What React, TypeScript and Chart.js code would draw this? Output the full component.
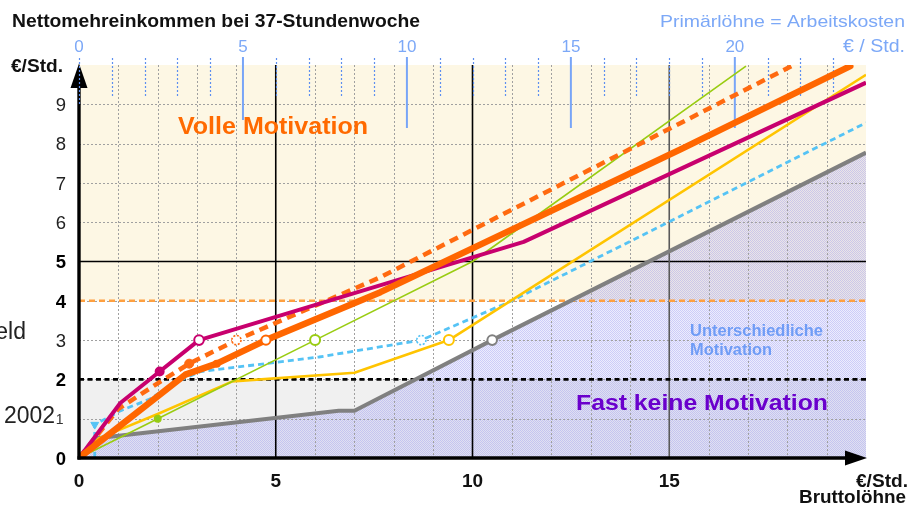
import React, { useEffect, useRef } from 'react';
import { Chart, registerables } from 'chart.js';

Chart.register(...registerables);

const WIDTH = 918;
const HEIGHT = 506;
const FONT = '"Liberation Sans", Arial, Helvetica, sans-serif';

// Bruttolohn (€/Std.) -> Nettomehreinkommen (€/Std.)
const orangeX = [0, 2.7, 3.5, 4.75, 7.66, 15.3, 19.6];
const orangeY = [0, 2.12, 2.4, 3.0, 4.22, 7.86, 9.97];
const orangeDashX = [0, 1, 2, 2.8, 4, 7.66, 18.1];
const orangeDashY = [0, 1.25, 1.9, 2.4, 3.0, 4.6, 9.97];
const magentaX = [0, 1.05, 2.05, 3.05, 11.3, 20];
const magentaY = [0, 1.4, 2.2, 3.0, 5.5, 9.55];
const greenX = [0, 2, 6, 10, 16.95];
const greenY = [0, 1, 3, 5, 9.97];
const yellowX = [0, 0.5, 2, 3.9, 7, 9.4, 20];
const yellowY = [0, 0.5, 1.12, 1.95, 2.17, 3.0, 9.75];
const blueX = [0.4, 0.4, 1.05, 1.8, 2.5, 3.1, 6.1, 8.7, 11, 20];
const blueY = [0, 0.85, 1.2, 1.5, 1.95, 2.2, 2.57, 3.0, 4.0, 8.53];
const grayX = [0, 0.45, 6.6, 7.0, 10.5, 20];
const grayY = [0, 0.5, 1.2, 1.2, 3.0, 7.77];

// axes / ticks
const xTickValues = [0, 5, 10, 15];
const xTickLabels = ['0', '5', '10', '15'];
const yTickValues = [0, 1, 2, 3, 4, 5, 6, 7, 8, 9];
const yTickLabels = ['0', '1', '2', '3', '4', '5', '6', '7', '8', '9'];
const yTickBold = [true, false, true, false, true, true, false, false, false, false];
const xGrid = [1, 2, 3, 4, 6, 7, 8, 9, 11, 12, 13, 14, 16, 17, 18, 19];
const yGrid = [1, 2, 3, 4, 6, 7, 8, 9];
const topMajor = [5, 10, 15, 20];
const topMajorLabels = ['0', '5', '10', '15', '20'];
const topLabelValues = [0, 5, 10, 15, 20];
const topMinor = [1, 2, 3, 4, 6, 7, 8, 9, 11, 12, 13, 14, 16, 17, 18, 19, 21, 22, 23];

const pts = (xs: number[], ys: number[]) => xs.map((x, i) => ({ x, y: ys[i] }));
const per = (n: number, f: (i: number) => any) => Array.from({ length: n }, (_, i) => f(i));

function txt(ctx: CanvasRenderingContext2D, s: string, x: number, y: number, font: string, color: string, align: 'left' | 'right' | 'center' = 'left', width?: number) {
  ctx.save();
  ctx.font = font;
  ctx.fillStyle = color;
  ctx.textBaseline = 'alphabetic';
  if (width) {
    const m = ctx.measureText(s).width;
    const sx = width / m;
    const ox = align === 'left' ? x : align === 'right' ? x - width : x - width / 2;
    ctx.translate(ox, y);
    ctx.scale(sx, 1);
    ctx.textAlign = 'left';
    ctx.fillText(s, 0, 0);
  } else {
    ctx.textAlign = align;
    ctx.fillText(s, x, y);
  }
  ctx.restore();
}

function seg(ctx: CanvasRenderingContext2D, x1: number, y1: number, x2: number, y2: number) {
  ctx.beginPath();
  ctx.moveTo(x1, y1);
  ctx.lineTo(x2, y2);
  ctx.stroke();
}

const deco = {
  id: 'deco',
  beforeDraw(chart: any) {
    const { ctx } = chart;
    const xs = chart.scales.x, ys = chart.scales.y;
    const L = xs.getPixelForValue(0), R = xs.getPixelForValue(20);
    ctx.save();
    ctx.fillStyle = '#ffffff';
    ctx.fillRect(0, 0, WIDTH, HEIGHT);
    const band = (a: number, b: number, c: string) => {
      const t = ys.getPixelForValue(b), bt = ys.getPixelForValue(a);
      ctx.fillStyle = c;
      ctx.fillRect(L, t, R - L, bt - t);
    };
    band(4, 10, '#fdf7e4');
    band(2, 4, '#ffffff');
    band(0, 2, '#f0f0f0');
    ctx.restore();
  },
  beforeDatasetsDraw(chart: any) {
    const { ctx } = chart;
    const xs = chart.scales.x, ys = chart.scales.y, x2 = chart.scales.x2;
    const L = xs.getPixelForValue(0), R = xs.getPixelForValue(20);
    const T = ys.getPixelForValue(10), B = ys.getPixelForValue(0);
    ctx.save();
    // dotted grid
    ctx.lineWidth = 1;
    ctx.strokeStyle = '#a0a0a0';
    ctx.setLineDash([2, 2]);
    xGrid.forEach((v) => { const p = Math.round(xs.getPixelForValue(v)) + 0.5; seg(ctx, p, T, p, B); });
    yGrid.forEach((v) => { const p = Math.round(ys.getPixelForValue(v)) + 0.5; seg(ctx, L, p, R, p); });
    // major lines
    ctx.setLineDash([]);
    ctx.lineWidth = 1.6;
    ctx.strokeStyle = '#000';
    [5, 10].forEach((v) => { const p = xs.getPixelForValue(v); seg(ctx, p, T, p, B); });
    seg(ctx, L, ys.getPixelForValue(5), R, ys.getPixelForValue(5));
    ctx.strokeStyle = '#5a5a5a';
    { const p = xs.getPixelForValue(15); seg(ctx, p, T, p, B); }
    // level lines
    ctx.strokeStyle = '#ffa040';
    ctx.lineWidth = 2.5;
    ctx.setLineDash([6, 4]);
    seg(ctx, L, ys.getPixelForValue(4), R, ys.getPixelForValue(4));
    ctx.strokeStyle = '#000';
    ctx.lineWidth = 2.6;
    ctx.setLineDash([5, 3.5]);
    seg(ctx, L, ys.getPixelForValue(2), R, ys.getPixelForValue(2));
    // top axis ticks (Primärlöhne)
    ctx.strokeStyle = '#5d8ff0';
    ctx.lineWidth = 1.2;
    ctx.setLineDash([2, 2]);
    topMinor.forEach((v) => { const p = Math.round(x2.getPixelForValue(v)) + 0.5; seg(ctx, p, 58, p, 97); });
    ctx.setLineDash([]);
    ctx.strokeStyle = '#78a5f7';
    ctx.lineWidth = 2;
    topMajor.forEach((v) => { const p = x2.getPixelForValue(v); seg(ctx, p, 57, p, v === 5 ? 120 : 128); });
    ctx.restore();
  },
  afterDatasetsDraw(chart: any) {
    const { ctx } = chart;
    const xs = chart.scales.x, ys = chart.scales.y, x2 = chart.scales.x2;
    const L = xs.getPixelForValue(0), R = xs.getPixelForValue(20);
    const T = ys.getPixelForValue(10), B = ys.getPixelForValue(0);
    ctx.save();
    // dashed open markers
    const dashed = [
      { ds: 2, i: 4, color: '#ff6a10' },
      { ds: 5, i: 7, color: '#55c3f5' },
    ];
    dashed.forEach((d) => {
      const el = chart.getDatasetMeta(d.ds).data[d.i];
      ctx.beginPath();
      ctx.arc(el.x, el.y, 4.6, 0, Math.PI * 2);
      ctx.fillStyle = '#fff';
      ctx.fill();
      ctx.setLineDash([2, 1.6]);
      ctx.lineWidth = 1.6;
      ctx.strokeStyle = d.color;
      ctx.stroke();
    });
    ctx.setLineDash([]);
    // axes with arrows
    ctx.strokeStyle = '#000';
    ctx.fillStyle = '#000';
    ctx.lineWidth = 3.4;
    seg(ctx, L, B + 1.5, L, T + 20);
    seg(ctx, L - 1.5, B, R - 18, B);
    ctx.beginPath();
    ctx.moveTo(L, T - 1.5);
    ctx.lineTo(L - 8.5, T + 23);
    ctx.lineTo(L + 8.5, T + 23);
    ctx.closePath();
    ctx.fill();
    ctx.beginPath();
    ctx.moveTo(R + 1, B);
    ctx.lineTo(R - 21, B - 7.5);
    ctx.lineTo(R - 21, B + 7.5);
    ctx.closePath();
    ctx.fill();
    // zero tick of top axis over the arrow
    ctx.strokeStyle = '#5d8ff0';
    ctx.lineWidth = 1.2;
    ctx.setLineDash([2, 2]);
    { const p = Math.round(x2.getPixelForValue(0)) + 0.5; seg(ctx, p, 58, p, 106); }
    ctx.setLineDash([]);
    ctx.restore();

    // texts
    txt(ctx, 'Nettomehreinkommen bei 37-Stundenwoche', 12, 27, `bold 19px ${FONT}`, '#111', 'left', 408);
    txt(ctx, '€/Std.', 11, 72, `bold 18px ${FONT}`, '#111', 'left', 52);
    txt(ctx, 'Primärlöhne = Arbeitskosten', 905, 27, `17px ${FONT}`, '#7ca8f7', 'right', 245);
    txt(ctx, '€ / Std.', 905, 52, `17.5px ${FONT}`, '#7ca8f7', 'right', 62);
    topLabelValues.forEach((v, i) => txt(ctx, topMajorLabels[i], x2.getPixelForValue(v), 52, `17px ${FONT}`, '#7ca8f7', 'center'));
    xTickValues.forEach((v, i) => txt(ctx, xTickLabels[i], xs.getPixelForValue(v), 486.5, `bold 19px ${FONT}`, '#111', 'center'));
    yTickValues.forEach((v, i) => {
      const p = ys.getPixelForValue(v);
      if (v === 1) {
        txt(ctx, yTickLabels[i], 63.5, p + 5, `14px ${FONT}`, '#333', 'right');
      } else {
        txt(ctx, yTickLabels[i], 66, p + 6.7, `${yTickBold[i] ? 'bold ' : ''}18.5px ${FONT}`, yTickBold[i] ? '#000' : '#222', 'right');
      }
    });
    txt(ctx, 'eld', 26, 339, `23px ${FONT}`, '#222', 'right');
    txt(ctx, '2002', 4, 423, `23px ${FONT}`, '#222', 'left', 51);
    txt(ctx, 'Volle Motivation', 178, 134, `bold 23px ${FONT}`, '#ff6a00', 'left', 190);
    txt(ctx, 'Unterschiedliche', 690, 335.5, `bold 16.5px ${FONT}`, '#6f9cf6', 'left', 133);
    txt(ctx, 'Motivation', 690, 355, `bold 16.5px ${FONT}`, '#6f9cf6', 'left', 82);
    txt(ctx, 'Fast keine Motivation', 576, 410, `bold 22px ${FONT}`, '#6a00cc', 'left', 252);
    txt(ctx, '€/Std.', 908, 486.5, `bold 18px ${FONT}`, '#111', 'right', 52);
    txt(ctx, 'Bruttolöhne', 906, 502.5, `bold 19px ${FONT}`, '#111', 'right', 107);
  },
};

export default function App() {
  const ref = useRef<HTMLCanvasElement>(null);
  useEffect(() => {
    const canvas = ref.current!;
    const c2 = canvas.getContext('2d')!;
    const pc = document.createElement('canvas');
    pc.width = 2;
    pc.height = 2;
    const pctx = pc.getContext('2d')!;
    pctx.fillStyle = 'rgba(160,160,245,0.20)';
    pctx.fillRect(0, 0, 2, 2);
    pctx.fillStyle = 'rgba(130,130,235,0.30)';
    pctx.fillRect(0, 0, 1, 1);
    pctx.fillRect(1, 1, 1, 1);
    const pattern = c2.createPattern(pc, 'repeat');

    const base = { tension: 0, fill: false, borderJoinStyle: 'round', pointHoverRadius: 0 };
    const datasets: any[] = [
      {
        ...base, label: 'orange', data: pts(orangeX, orangeY), borderColor: '#ff6600', borderWidth: 6.5,
        borderCapStyle: 'round',
        pointRadius: per(orangeX.length, (i) => (i === 2 ? 3 : i === 3 ? 4.6 : 0)),
        pointBackgroundColor: per(orangeX.length, (i) => (i === 3 ? '#fff' : '#ff6600')),
        pointBorderColor: '#ff6600', pointBorderWidth: 2,
      },
      {
        ...base, label: 'magenta', data: pts(magentaX, magentaY), borderColor: '#c8006e', borderWidth: 4,
        pointRadius: per(magentaX.length, (i) => (i === 2 ? 4 : i === 3 ? 4.8 : 0)),
        pointBackgroundColor: per(magentaX.length, (i) => (i === 3 ? '#fff' : '#c8006e')),
        pointBorderColor: '#c8006e', pointBorderWidth: 2,
      },
      {
        ...base, label: 'orangeDash', data: pts(orangeDashX, orangeDashY), borderColor: '#ff6a10', borderWidth: 4.5,
        borderDash: [9, 6], borderCapStyle: 'butt',
        pointRadius: per(orangeDashX.length, (i) => (i === 3 ? 4.5 : 0)),
        pointBackgroundColor: '#ff6a10', pointBorderColor: '#ff6a10', pointBorderWidth: 1,
      },
      {
        ...base, label: 'green', data: pts(greenX, greenY), borderColor: '#99cc11', borderWidth: 1.6,
        pointRadius: per(greenX.length, (i) => (i === 1 ? 3 : i === 2 ? 5 : 0)),
        pointBackgroundColor: per(greenX.length, (i) => (i === 2 ? '#fff' : '#88cc22')),
        pointBorderColor: '#99cc11', pointBorderWidth: 2,
      },
      {
        ...base, label: 'yellow', data: pts(yellowX, yellowY), borderColor: '#ffc400', borderWidth: 2.6,
        pointRadius: per(yellowX.length, (i) => (i === 5 ? 5 : 0)),
        pointBackgroundColor: '#fff', pointBorderColor: '#ffc400', pointBorderWidth: 2,
      },
      {
        ...base, label: 'blue', data: pts(blueX, blueY), borderColor: '#55c3f5', borderWidth: 2.8,
        borderDash: [6, 4],
        pointRadius: per(blueX.length, (i) => (i === 1 ? 4.5 : 0)),
        pointStyle: per(blueX.length, (i) => (i === 1 ? 'triangle' : 'circle')),
        pointRotation: per(blueX.length, (i) => (i === 1 ? 180 : 0)),
        pointBackgroundColor: '#55c3f5', pointBorderColor: '#55c3f5', pointBorderWidth: 1,
      },
      {
        ...base, label: 'gray', data: pts(grayX, grayY), borderColor: '#808080', borderWidth: 4,
        fill: 'origin', backgroundColor: pattern,
        pointRadius: per(grayX.length, (i) => (i === 4 ? 4.8 : 0)),
        pointBackgroundColor: '#fff', pointBorderColor: '#808080', pointBorderWidth: 2,
      },
    ];

    const chart = new Chart(canvas, {
      type: 'line',
      data: { datasets },
      options: {
        animation: false,
        responsive: false,
        maintainAspectRatio: false,
        devicePixelRatio: 1,
        events: [],
        layout: { padding: { left: 79, right: 52, top: 65, bottom: 48 } },
        plugins: {
          legend: { display: false },
          tooltip: { enabled: false },
          filler: { drawTime: 'beforeDatasetsDraw' },
        } as any,
        scales: {
          x: { type: 'linear', min: 0, max: 20, display: false },
          y: { type: 'linear', min: 0, max: 10, display: false },
          x2: { type: 'linear', min: 0, max: 24, display: false, position: 'top' },
        },
      } as any,
      plugins: [deco as any],
    });
    return () => chart.destroy();
  }, []);
  return (
    <div style={{ position: 'fixed', left: 0, top: 0, width: WIDTH, height: HEIGHT, background: '#fff' }}>
      <canvas ref={ref} width={WIDTH} height={HEIGHT} style={{ width: WIDTH, height: HEIGHT, display: 'block' }} />
    </div>
  );
}
